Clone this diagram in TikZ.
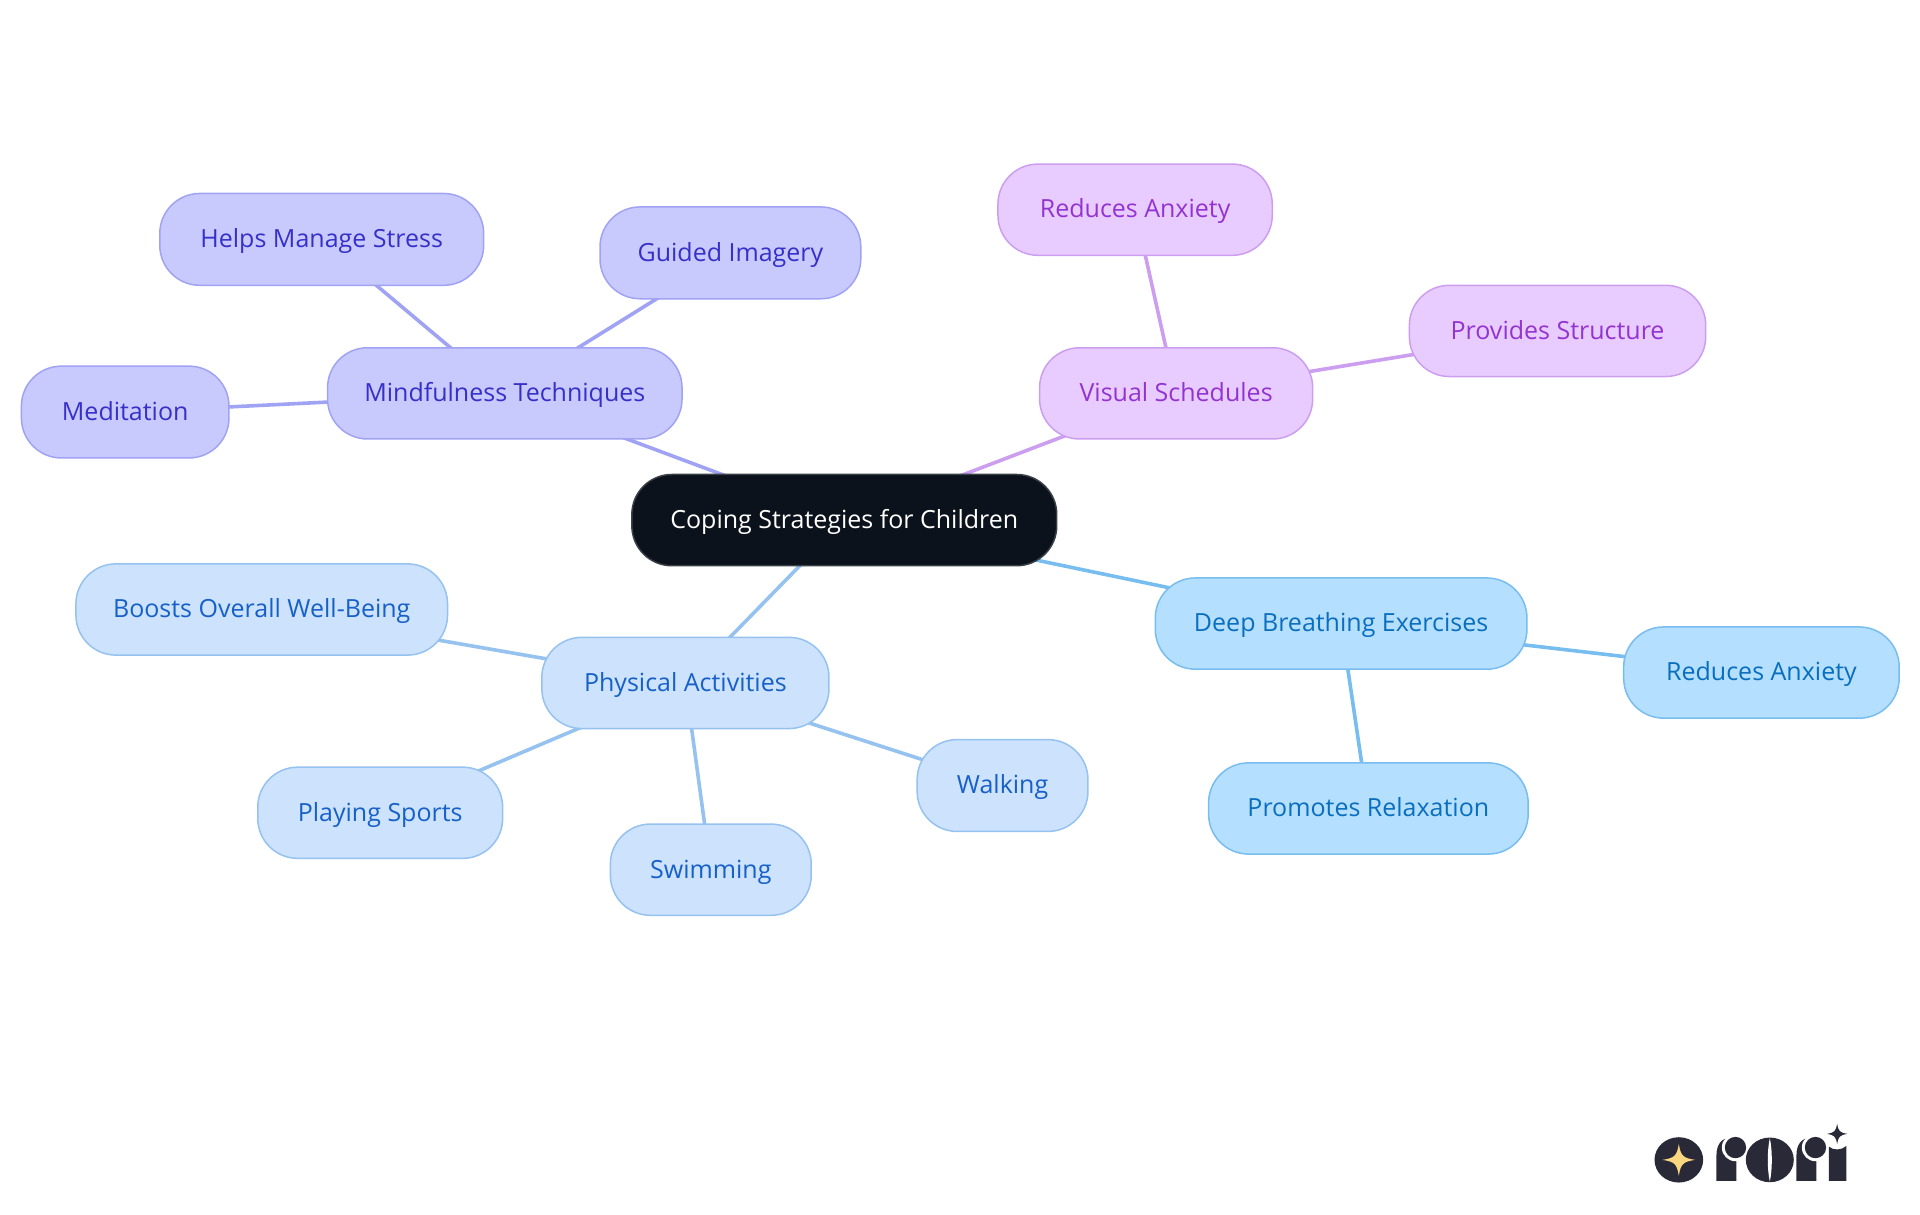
\documentclass[tikz,border=0pt]{standalone}
\usepackage{fontspec}
\setmainfont{Open Sans}
\usetikzlibrary{backgrounds}
\definecolor{indF}{HTML}{C8CAFE}\definecolor{indS}{HTML}{A0A3F3}\definecolor{indT}{HTML}{3730C8}
\definecolor{purF}{HTML}{E8CCFF}\definecolor{purS}{HTML}{CC9EF0}\definecolor{purT}{HTML}{9333D0}
\definecolor{bluF}{HTML}{CCE2FD}\definecolor{bluS}{HTML}{96C2F0}\definecolor{bluT}{HTML}{1660C8}
\definecolor{skyF}{HTML}{B5DFFF}\definecolor{skyS}{HTML}{78BDF0}\definecolor{skyT}{HTML}{0A6EBE}
\definecolor{rootF}{HTML}{0B121B}\definecolor{rootS}{HTML}{3A4047}
\definecolor{logoD}{HTML}{2A2937}\definecolor{logoY}{HTML}{F9D67F}
\tikzset{
  x=1.2245pt,y=-1.2245pt,
  mm/.style={rectangle,rounded corners=40pt,line width=1.5pt,inner sep=0pt,align=center,
    font=\fontsize{25}{30}\selectfont,text height=20pt,text depth=3.4pt},
  ind/.style={mm,fill=indF,draw=indS,text=indT},
  pur/.style={mm,fill=purF,draw=purS,text=purT},
  blu/.style={mm,fill=bluF,draw=bluS,text=bluT},
  sky/.style={mm,fill=skyF,draw=skyS,text=skyT},
  rootn/.style={mm,fill=rootF,draw=rootS,text=white},
  lnk/.style={line width=3.6pt},
  logod/.style={fill=logoD,draw=none},
  logow/.style={fill=white,draw=none},
}
\newcommand{\mmnode}[7]{%
  \pgfmathsetmacro{\mmw}{(#4-#2)*1.2245}\pgfmathsetmacro{\mmh}{(#5-#3)*1.2245}%
  \node[#6,minimum width=\mmw pt,minimum height=\mmh pt] (#1) at ({(#2+#4)/2},{(#3+#5)/2}) {#7};}
\newcommand{\starshape}[4]{% cx cy rx ry
  (#1-#3,#2) .. controls (#1-0.25*#3,#2-0.12*#4) and (#1-0.12*#3,#2-0.25*#4) .. (#1,#2-#4)
  .. controls (#1+0.12*#3,#2-0.25*#4) and (#1+0.25*#3,#2-0.12*#4) .. (#1+#3,#2)
  .. controls (#1+0.25*#3,#2+0.12*#4) and (#1+0.12*#3,#2+0.25*#4) .. (#1,#2+#4)
  .. controls (#1-0.12*#3,#2+0.25*#4) and (#1-0.25*#3,#2+0.12*#4) .. (#1-#3,#2) -- cycle}
\begin{document}
\begin{tikzpicture}
\useasboundingbox (0,0) rectangle (1568,992.24);
\mmnode{root}{516}{387.5}{863}{462}{rootn}{Coping Strategies for Children}
\mmnode{mind}{267.5}{284}{557}{358.5}{ind}{Mindfulness Techniques}
\mmnode{help}{130.5}{158}{395}{233}{ind}{Helps Manage Stress}
\mmnode{guid}{490}{169}{703}{244}{ind}{Guided Imagery}
\mmnode{medi}{17.5}{299}{187}{374}{ind}{Meditation}
\mmnode{visu}{849}{284}{1072}{358.5}{pur}{Visual Schedules}
\mmnode{redp}{815}{134}{1039}{208.5}{pur}{Reduces Anxiety}
\mmnode{prov}{1151}{233}{1393}{307.5}{pur}{Provides Structure}
\mmnode{deep}{943.5}{472}{1247}{546.5}{sky}{Deep Breathing Exercises}
\mmnode{reds}{1326}{512}{1551}{586.5}{sky}{Reduces Anxiety}
\mmnode{prom}{987}{623}{1248}{697.5}{sky}{Promotes Relaxation}
\mmnode{phys}{442.5}{520.5}{677}{595}{blu}{Physical Activities}
\mmnode{boos}{62}{460.5}{365.5}{535}{blu}{Boosts Overall Well-Being}
\mmnode{play}{210.5}{626.5}{410.5}{701}{blu}{Playing Sports}
\mmnode{swim}{498.5}{673}{662.5}{747.5}{blu}{Swimming}
\mmnode{walk}{749}{604}{888.5}{679}{blu}{Walking}
\begin{scope}[on background layer]
\draw[lnk,indS] (root.center) -- (mind.center);
\draw[lnk,indS] (mind.center) -- (help.center);
\draw[lnk,indS] (mind.center) -- (guid.center);
\draw[lnk,indS] (mind.center) -- (medi.center);
\draw[lnk,purS] (root.center) -- (visu.center);
\draw[lnk,purS] (visu.center) -- (redp.center);
\draw[lnk,purS] (visu.center) -- (prov.center);
\draw[lnk,skyS] (root.center) -- (deep.center);
\draw[lnk,skyS] (deep.center) -- (reds.center);
\draw[lnk,skyS] (deep.center) -- (prom.center);
\draw[lnk,bluS] (root.center) -- (phys.center);
\draw[lnk,bluS] (phys.center) -- (boos.center);
\draw[lnk,bluS] (phys.center) -- (play.center);
\draw[lnk,bluS] (phys.center) -- (swim.center);
\draw[lnk,bluS] (phys.center) -- (walk.center);
\end{scope}
% logo, in thirds of reference pixels from (1620,1100)
\begin{scope}[x=0.3333pt,y=-0.3333pt,shift={(4860,3300)}]
\fill[logod] (177,180) ellipse (73 and 68);
\fill[logoY] \starshape{177}{180}{49}{48};
% first r
\fill[logod] (290,243) -- (290,165) .. controls (290,135) and (305,113) .. (335,113) -- (350,180) -- (350,243) -- cycle;
\fill[logow] (347,143) circle (41);
\fill[logod] (347,143) circle (32);
% o
\fill[logod] (450,180) ellipse (72 and 67);
\fill[logow] (450,115) .. controls (442,150) and (442,210) .. (450,245) .. controls (458,210) and (458,150) .. (450,115) -- cycle;
% second r
\fill[logod] (530,243) -- (530,165) .. controls (530,135) and (545,113) .. (575,113) -- (590,180) -- (590,243) -- cycle;
\fill[logow] (587,143) circle (41);
\fill[logod] (587,143) circle (32);
% i
\fill[logod] (627,243) -- (627,140) .. controls (640,152) and (665,152) .. (680,138) -- (680,243) -- cycle;
\fill[logod] \starshape{652}{102}{31}{31};
\end{scope}
\end{tikzpicture}
\end{document}
